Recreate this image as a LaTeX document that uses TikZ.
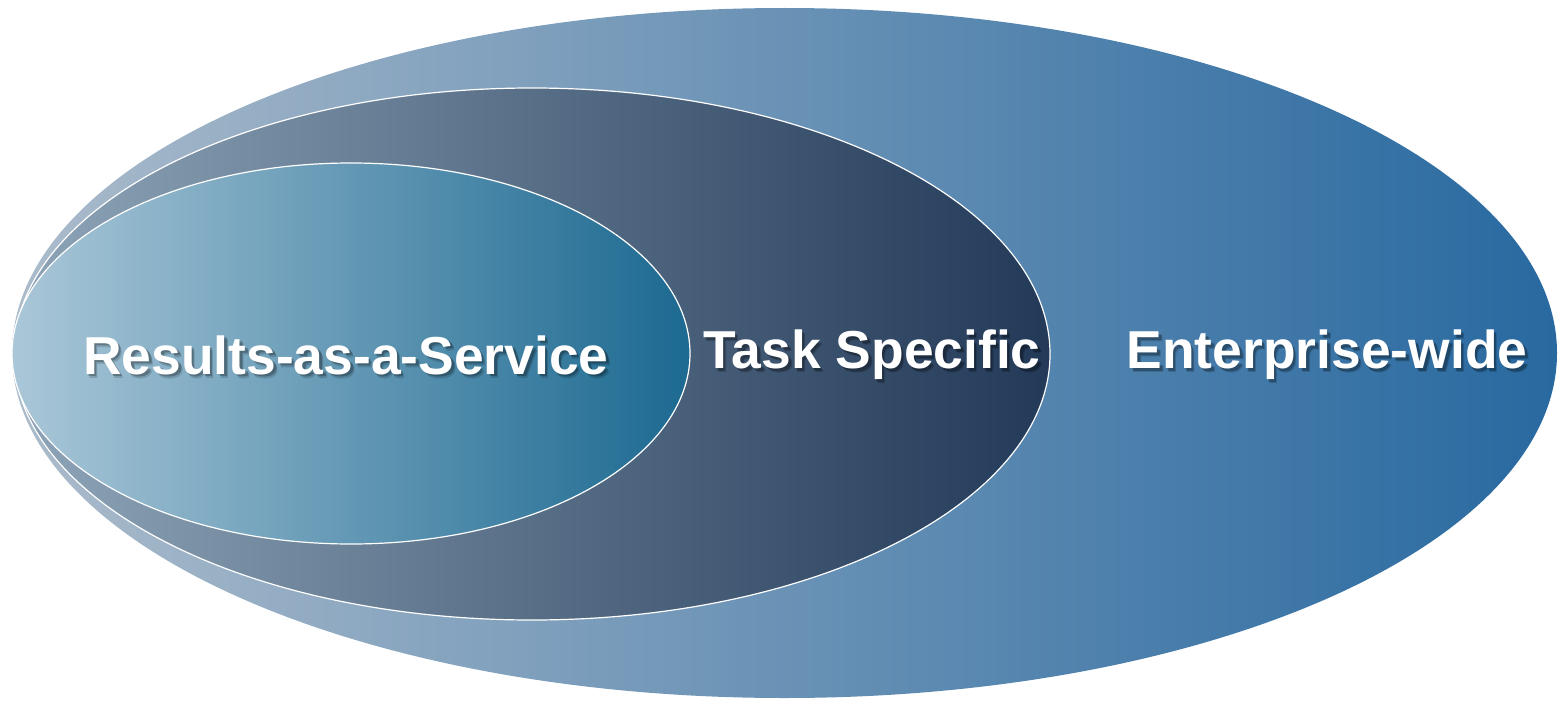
\documentclass[tikz,border=0pt]{standalone}
\usepackage{fontspec}
\setmainfont{Liberation Sans}
\usetikzlibrary{shapes.geometric}
\definecolor{outL}{HTML}{ABBBCB}
\definecolor{outR}{HTML}{2869A0}
\definecolor{midL}{HTML}{8EA4B7}
\definecolor{midR}{HTML}{223958}
\definecolor{inL}{HTML}{AAC7D8}
\definecolor{inR}{HTML}{1C6991}
\tikzset{
  ring/.style={ellipse, inner sep=0pt, draw=white, line width=1.2pt},
  lbl/.style={text=white, font=\fontsize{53.4}{62}\selectfont\bfseries, inner sep=0pt},
  shadowlbl/.style={text=black, opacity=0.25, font=\fontsize{53.4}{62}\selectfont\bfseries, inner sep=0pt}
}
\begin{document}
\begin{tikzpicture}[x=1pt,y=-1pt]
\useasboundingbox (0,0) rectangle (1563,701);
\node[ring, draw=none, minimum width=1545pt, minimum height=690pt, left color=outL, right color=outR] (outer) at (784.5,353) {};
\node[ring, minimum width=1036pt, minimum height=532pt, left color=midL, right color=midR] (middle) at (532,354) {};
\node[ring, minimum width=678pt, minimum height=381pt, left color=inL, right color=inR] (inner) at (351,353.5) {};
\node[shadowlbl] (s1) at (348.5,357.5) {Results-as-a-Service};
\node[shadowlbl] (s2) at (874.5,357.5) {Task Specific};
\node[shadowlbl] (s3) at (1329.5,357.5) {Enterprise-wide};
\node[shadowlbl, opacity=0.15] (u1) at (349.5,359) {Results-as-a-Service};
\node[shadowlbl, opacity=0.15] (u2) at (875.5,359) {Task Specific};
\node[shadowlbl, opacity=0.15] (u3) at (1330.5,359) {Enterprise-wide};
\node[lbl] (t1) at (346,355) {Results-as-a-Service};
\node[lbl] (t2) at (872,355) {Task Specific};
\node[lbl] (t3) at (1327,355) {Enterprise-wide};
\end{tikzpicture}
\end{document}
